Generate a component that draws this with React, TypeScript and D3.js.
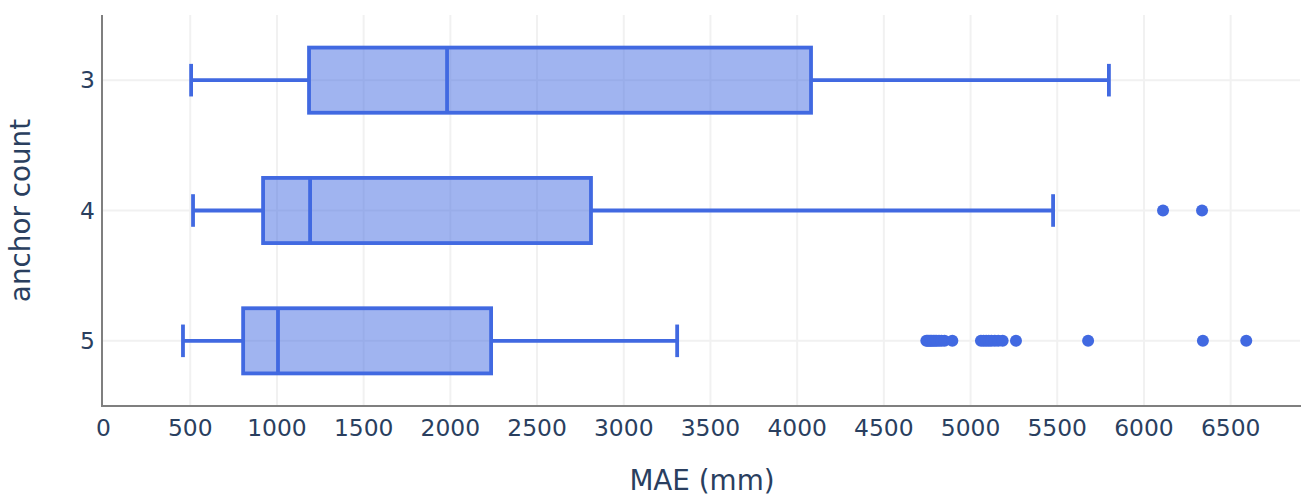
import React from 'react';
import * as d3 from 'd3';

// anchor counts (top to bottom)
const categories = ['3', '4', '5'];
// box statistics per category: lower fence, q1, median, q3, upper fence
const lowerFence = [505, 516, 458];
const q1 = [1185, 920, 805];
const median = [1981, 1191, 1006];
const q3 = [4080, 2811, 2235];
const upperFence = [5798, 5476, 3308];
// suspected outliers
const outliers3: number[] = [];
const outliers4 = [6110, 6335];
const outliers5 = [
  4745, 4752, 4760, 4768, 4776, 4785, 4795, 4805, 4818, 4832, 4850, 4895,
  5060, 5075, 5090, 5105, 5120, 5140, 5160, 5185, 5262, 5678, 6340, 6590,
];
const xTicks = [0, 500, 1000, 1500, 2000, 2500, 3000, 3500, 4000, 4500, 5000, 5500, 6000, 6500];

const W = 1301;
const H = 496;
const margin = { top: 15, right: 1, bottom: 90, left: 102 };
const color = '#4169E1';
const textColor = '#2a3f5f';
const font = 'DejaVu Sans, sans-serif';

const App = () => {
  const x = d3.scaleLinear().domain([-9, 6900]).range([margin.left, W - margin.right]);
  const y = d3.scaleBand().domain(categories).range([margin.top, H - margin.bottom]).padding(0);
  const boxH = y.bandwidth() * 0.5;
  const capH = boxH * 0.5;
  const outliers = [outliers3, outliers4, outliers5];

  return (
    <svg width={W} height={H} style={{ position: 'absolute', left: 0, top: 0, background: '#fff' }}>
      {/* grid */}
      {xTicks.slice(1).map(t => (
        <line key={'gx' + t} x1={x(t)} x2={x(t)} y1={margin.top} y2={H - margin.bottom} stroke="#f1f1f1" strokeWidth={2} />
      ))}
      {categories.map(c => (
        <line key={'gy' + c} x1={margin.left} x2={W - margin.right} y1={y(c)! + y.bandwidth() / 2} y2={y(c)! + y.bandwidth() / 2} stroke="#f1f1f1" strokeWidth={2} />
      ))}

      {/* boxes */}
      {categories.map((c, i) => {
        const cy = y(c)! + y.bandwidth() / 2;
        return (
          <g key={'b' + c} stroke={color} strokeWidth={3.8} fill="none">
            <line x1={x(lowerFence[i])} x2={x(q1[i])} y1={cy} y2={cy} />
            <line x1={x(q3[i])} x2={x(upperFence[i])} y1={cy} y2={cy} />
            <line x1={x(lowerFence[i])} x2={x(lowerFence[i])} y1={cy - capH / 2} y2={cy + capH / 2} />
            <line x1={x(upperFence[i])} x2={x(upperFence[i])} y1={cy - capH / 2} y2={cy + capH / 2} />
            <rect x={x(q1[i])} y={cy - boxH / 2} width={x(q3[i]) - x(q1[i])} height={boxH} fill={color} fillOpacity={0.5} />
            <line x1={x(median[i])} x2={x(median[i])} y1={cy - boxH / 2} y2={cy + boxH / 2} />
            {outliers[i].map((v, j) => (
              <circle key={j} cx={x(v)} cy={cy} r={6} fill={color} stroke="none" />
            ))}
          </g>
        );
      })}

      {/* axes lines */}
      <line x1={margin.left} x2={margin.left} y1={margin.top} y2={H - margin.bottom + 1} stroke="#7f7f7f" strokeWidth={2} />
      <line x1={margin.left - 1} x2={W} y1={H - margin.bottom} y2={H - margin.bottom} stroke="#7f7f7f" strokeWidth={2} />

      {/* tick labels */}
      {xTicks.map(t => (
        <text key={'tx' + t} x={x(t)} y={436} textAnchor="middle" fill={textColor} fontFamily={font} fontSize={23.4}>
          {t}
        </text>
      ))}
      {categories.map(c => (
        <text key={'ty' + c} x={95} y={y(c)! + y.bandwidth() / 2 + 8} textAnchor="end" fill={textColor} fontFamily={font} fontSize={23.4}>
          {c}
        </text>
      ))}

      {/* titles */}
      <text x={(margin.left + W - margin.right) / 2 + 1} y={490} textAnchor="middle" fill={textColor} fontFamily={font} fontSize={27.8}>
        MAE (mm)
      </text>
      <text transform={`translate(30,${(margin.top + H - margin.bottom) / 2}) rotate(-90)`} textAnchor="middle" fill={textColor} fontFamily={font} fontSize={27.8}>
        anchor count
      </text>
    </svg>
  );
};

export default App;
